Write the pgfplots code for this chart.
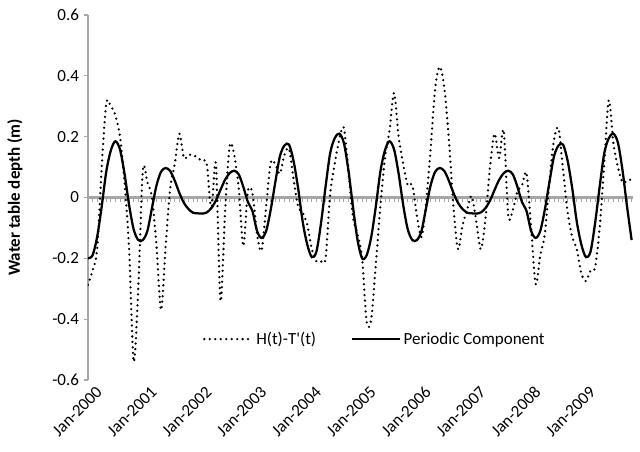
\documentclass[border=0pt]{standalone}
\usepackage{fontspec}
\setmainfont{Carlito}
\newfontfamily\plainfont{Carlito}
\usepackage{pgfplots}
\usepackage{pgfplotstable}
\pgfplotsset{compat=1.18}
\definecolor{axisgray}{HTML}{A6A6A6}

\pgfplotstableread{
m obs per
0 -0.287 -0.200
1 -0.24 -0.190
2 -0.17 -0.130
3 0.10 -0.030
4 0.31 0.085
5 0.30 0.155
6 0.27 0.185
7 0.20 0.158
8 0.05 0.078
9 -0.17 -0.025
10 -0.54 -0.105
11 -0.30 -0.140
12 0.09 -0.140
13 0.05 -0.110
14 0.00 -0.035
15 -0.16 0.040
16 -0.37 0.085
17 -0.16 0.097
18 0.03 0.087
19 0.11 0.055
20 0.21 0.015
21 0.13 -0.018
22 0.14 -0.038
23 0.14 -0.050
24 0.13 -0.052
25 0.12 -0.053
26 0.11 -0.049
27 -0.04 -0.035
28 0.11 -0.010
29 -0.34 0.025
30 -0.05 0.058
31 0.17 0.080
32 0.14 0.088
33 0.03 0.076
34 -0.16 0.035
35 0.02 -0.015
36 0.015 -0.045
37 -0.12 -0.110
38 -0.175 -0.133
39 -0.03 -0.110
40 0.115 -0.040
41 0.11 0.050
42 0.078 0.135
43 0.14 0.171
44 0.16 0.174
45 0.06 0.120
46 -0.03 0.030
47 -0.05 -0.080
48 -0.09 -0.155
49 -0.17 -0.196
50 -0.21 -0.178
51 -0.21 -0.085
52 -0.20 0.035
53 0.01 0.145
54 0.11 0.195
55 0.19 0.210
56 0.23 0.180
57 0.09 0.090
58 -0.065 -0.030
59 -0.12 -0.140
60 -0.20 -0.200
61 -0.41 -0.190
62 -0.40 -0.130
63 -0.22 -0.030
64 -0.03 0.085
65 0.13 0.155
66 0.22 0.185
67 0.344 0.158
68 0.20 0.078
69 0.11 -0.025
70 0.04 -0.105
71 0.04 -0.140
72 -0.06 -0.140
73 -0.13 -0.110
74 -0.02 -0.035
75 0.16 0.040
76 0.36 0.085
77 0.43 0.097
78 0.36 0.087
79 0.19 0.055
80 -0.03 0.015
81 -0.17 -0.018
82 -0.09 -0.038
83 -0.04 -0.050
84 0.005 -0.052
85 -0.08 -0.053
86 -0.17 -0.049
87 -0.07 -0.035
88 0.10 -0.010
89 0.21 0.025
90 0.13 0.058
91 0.22 0.080
92 -0.06 0.088
93 -0.04 0.076
94 0.02 0.035
95 0.04 -0.015
96 0.08 -0.045
97 -0.10 -0.110
98 -0.285 -0.133
99 -0.19 -0.110
100 -0.12 -0.040
101 0.05 0.050
102 0.19 0.135
103 0.227 0.171
104 0.09 0.174
105 -0.05 0.120
106 -0.13 0.030
107 -0.17 -0.080
108 -0.25 -0.155
109 -0.275 -0.196
110 -0.24 -0.178
111 -0.23 -0.085
112 -0.10 0.035
113 0.11 0.145
114 0.32 0.195
115 0.18 0.210
116 0.10 0.180
117 0.05 0.090
118 0.055 -0.030
119 0.06 -0.140
}\datatable

\begin{document}
\begin{tikzpicture}
\pgfplotsset{
  chartbase/.style={
    scale only axis, width=408.75pt, height=273.75pt,
    xmin=0, xmax=119.3, ymin=-0.6, ymax=0.6,
    tick label style={font=\fontsize{12.75}{15}\selectfont},
  }
}
\begin{axis}[chartbase, name=frame,
  axis x line=middle, axis y line=left,
  axis line style={-},
  y axis line style={axisgray, line width=0.8pt},
  x axis line style={axisgray, line width=1.6pt},
  xtick={0,1,...,119}, xticklabels={},
  x tick style={axisgray, line width=0.6pt},
  xtick align=outside, major tick length=3.2pt,
  ytick={-0.6,-0.4,-0.2,0,0.2,0.4,0.6},
  y tick style={axisgray, line width=0.8pt},
  ytick align=outside,
  yticklabel style={/pgf/number format/fixed, /pgf/number format/precision=1, /pgf/number format/assume math mode=true},
  ylabel={\bfseries Water table depth (m)},
  every axis y label/.style={at={([xshift=-54.75pt]rel axis cs:0,0.5)}, anchor=center, rotate=90, font=\fontsize{12.75}{15}\selectfont},
]
\end{axis}
\begin{axis}[chartbase, at={(frame.south west)}, anchor=south west,
  axis y line=none, axis x line*=bottom, x axis line style={draw=none},
  xtick={0,12,24,36,48,60,72,84,96,108},
  xticklabels={Jan-2000,Jan-2001,Jan-2002,Jan-2003,Jan-2004,Jan-2005,Jan-2006,Jan-2007,Jan-2008,Jan-2009},
  major tick length=0pt,
  xticklabel style={rotate=45, anchor=east, inner sep=0pt, yshift=-11pt, xshift=1pt},
  legend style={at={(0.527,0.112)}, anchor=center, draw=none, fill=none,
    legend columns=2, font=\fontsize{12.75}{15}\selectfont,
    /tikz/every even column/.append style={column sep=24pt}},
  legend image code/.code={\draw[#1] (0pt,0pt) -- (36pt,0pt);},
]
\addplot[black, line width=1.9pt, dash pattern=on 0pt off 4.1pt, line cap=round, smooth, tension=0.5] table[x=m, y=obs] {\datatable};
\addlegendentry{\plainfont H(t)-T'(t)}
\addplot[black, line width=1.7pt, smooth, tension=0.5] table[x=m, y=per] {\datatable};
\addlegendentry{Periodic Component}
\end{axis}
\pgfresetboundingbox
\path ([shift={(-66pt,-54pt)}]frame.south west) rectangle ([shift={(5.25pt,11.25pt)}]frame.north east);
\end{tikzpicture}
\end{document}
